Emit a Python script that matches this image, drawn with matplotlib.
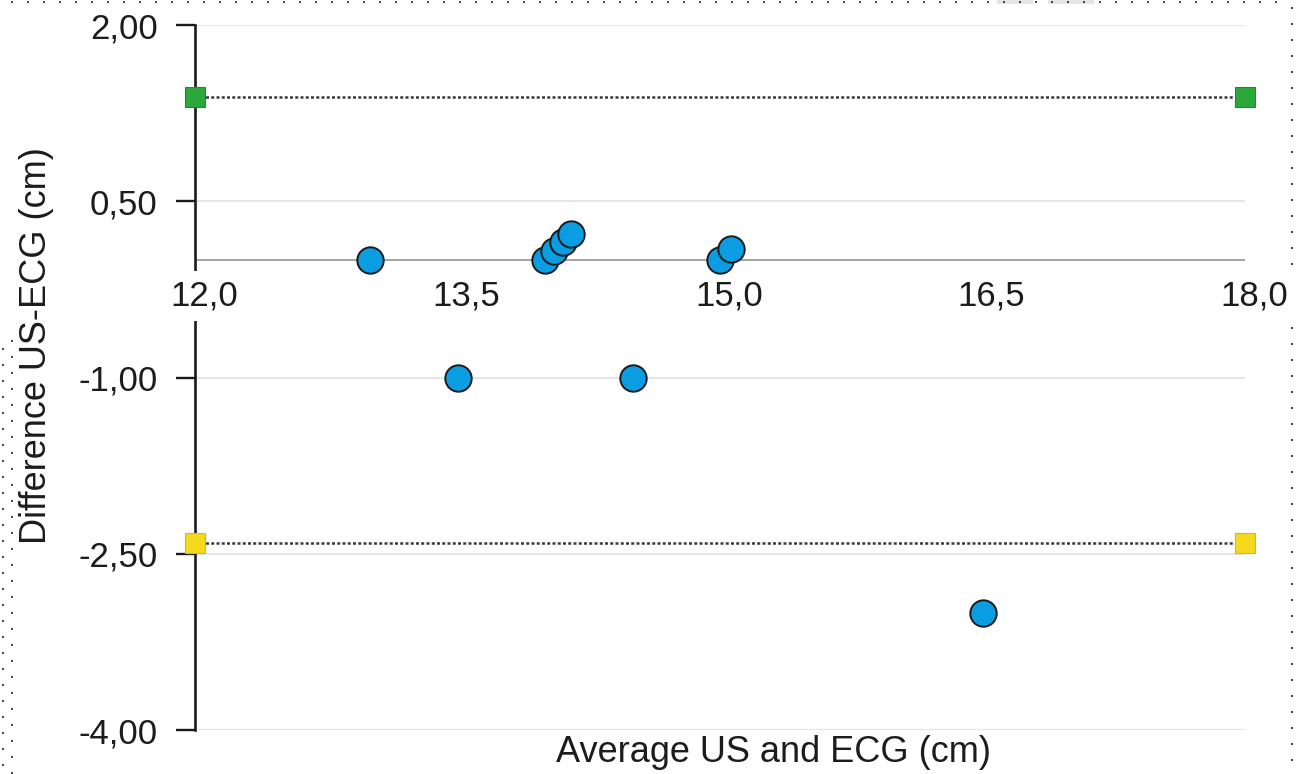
import numpy as np
import matplotlib
matplotlib.use("Agg")
import matplotlib.pyplot as plt
import matplotlib.transforms as mtransforms
from matplotlib.patches import Rectangle

# Bland-Altman data: mean of the two methods vs their difference (cm)
avg_cm = [13.0, 13.5, 14.0, 14.05, 14.1, 14.15, 14.5, 15.0, 15.06, 16.5]
diff_cm = [0.0, -1.0, 0.0, 0.075, 0.15, 0.225, -1.0, 0.0, 0.09, -3.0]

# limits of agreement
upper_loa = 1.39
lower_loa = -2.41

x_range = [12.0, 18.0]
x_ticks = [12.0, 13.5, 15.0, 16.5, 18.0]
x_tick_labels = ["12,0", "13,5", "15,0", "16,5", "18,0"]
y_ticks = [2.0, 0.5, -1.0, -2.5, -4.0]
y_tick_labels = ["2,00", "0,50", "-1,00", "-2,50", "-4,00"]

plt.rcParams["font.family"] = ["Liberation Sans", "DejaVu Sans"]
TXT = "#1c1c1c"
FS_TICK = 25
FS_LABEL = 26

W, H = 1299, 774
fig = plt.figure(figsize=(W / 100, H / 100), dpi=100)
fig.patch.set_facecolor("white")

# page decoration layer in pixel coordinates
ov = fig.add_axes([0, 0, 1, 1])
ov.set_xlim(0, W)
ov.set_ylim(H, 0)
ov.axis("off")
ov.patch.set_alpha(0)
dot_kw = dict(marker="s", ms=1.6, ls="none", color="#3c4563", mew=0)
top_x = np.arange(12, 1292, 16)
ov.plot(top_x, np.full(top_x.shape, 1.5), **dot_kw)
right_y = np.arange(8, H, 16)
ov.plot(np.full(right_y.shape, 1292.5), right_y, **dot_kw)
left_a = np.arange(341, H, 16)
left_b = np.arange(349, H, 16)
ov.plot(np.full(left_a.shape, 12), left_a, **dot_kw)
ov.plot(np.full(left_b.shape, 3), left_b, **dot_kw)
ov.add_patch(Rectangle((997, 0), 36, 4, color="#e4e4e4", lw=0))
ov.add_patch(Rectangle((1048, 0), 46, 4, color="#e4e4e4", lw=0))

# main plot area
ax = fig.add_axes([195 / W, 1 - 730 / H, (1245 - 195) / W, (730 - 25) / H])
ax.patch.set_alpha(0)
ax.set_xlim(*x_range)
ax.set_ylim(-4, 2)

for side in ("top", "right", "bottom"):
    ax.spines[side].set_visible(False)
ax.spines["left"].set_linewidth(1.9)
ax.spines["left"].set_color("#1a1a1a")
ax.spines["left"].set_zorder(2)

# horizontal grid and the zero line
ax.hlines(y_ticks, x_range[0], x_range[1], color="#e6e6e6", lw=1.6, zorder=0)
ax.axhline(0, color="#8c8c8c", lw=1.1, zorder=1)

# y axis ticks
ax.set_yticks(y_ticks, y_tick_labels)
ax.tick_params(axis="y", direction="out", length=14, width=1.7, color="#1a1a1a",
               pad=13, labelsize=FS_TICK, labelcolor=TXT)
ax.set_xticks([])

# x tick labels sit just under the zero line, masking the spine behind them
lab_tf = ax.transData + mtransforms.ScaledTranslation(9 / 100, -36 / 100, fig.dpi_scale_trans)
for v, lab in zip(x_ticks, x_tick_labels):
    ax.text(v, 0, lab, transform=lab_tf, ha="center", va="center", fontsize=FS_TICK,
            color=TXT, zorder=4,
            bbox=dict(facecolor="white", edgecolor="none", pad=6))

# limits of agreement
for level, face, edge in ((upper_loa, "#2aa83a", "#1e8c2e"), (lower_loa, "#f6d81c", "#d9b810")):
    ax.plot(x_range, [level, level], color="#3a3a3a", lw=1.8,
            ls=(0, (1.2, 0.9)), zorder=3)
    ax.plot(x_range, [level, level], ls="none", marker="s", ms=15,
            mfc=face, mec=edge, mew=0.8, clip_on=False, zorder=6)

# measurements
ax.scatter(avg_cm, diff_cm, s=19 ** 2, c="#0a9de2", edgecolors="#1b1b1b",
           linewidths=1.4, zorder=5, clip_on=False)

# axis titles
fig.text(37 / W, 1 - 346 / H, "Difference US-ECG (cm)", rotation=90,
         ha="center", va="center", fontsize=FS_LABEL, color=TXT)
fig.text(773 / W, 1 - 752 / H, "Average US and ECG (cm)",
         ha="center", va="center", fontsize=FS_LABEL, color=TXT)

fig.savefig("out.png", dpi=100, facecolor="white")
